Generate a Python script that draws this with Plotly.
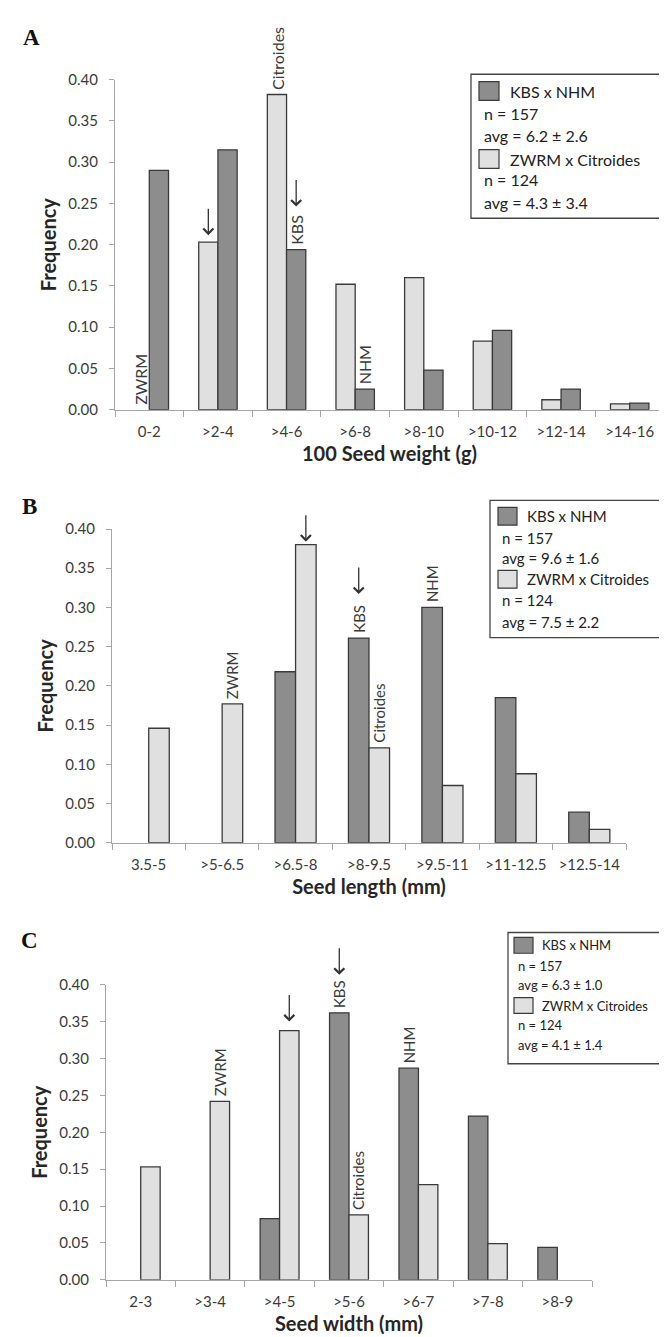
import plotly.graph_objects as go

# ---------------- data ----------------
a_cats = ["0-2", ">2-4", ">4-6", ">6-8", ">8-10", ">10-12", ">12-14", ">14-16"]
a_kbs = [0.290, 0.315, 0.194, 0.025, 0.048, 0.096, 0.025, 0.008]
a_zwrm = [0.0, 0.203, 0.382, 0.152, 0.160, 0.083, 0.012, 0.007]

b_cats = ["3.5-5", ">5-6.5", ">6.5-8", ">8-9.5", ">9.5-11", ">11-12.5", ">12.5-14"]
b_kbs = [0.0, 0.0, 0.218, 0.261, 0.300, 0.185, 0.039]
b_zwrm = [0.146, 0.177, 0.380, 0.121, 0.073, 0.088, 0.017]

c_cats = ["2-3", ">3-4", ">4-5", ">5-6", ">6-7", ">7-8", ">8-9"]
c_kbs = [0.0, 0.0, 0.083, 0.362, 0.287, 0.222, 0.044]
c_zwrm = [0.153, 0.242, 0.338, 0.088, 0.129, 0.049, 0.0]

y_tickvals = [0.0, 0.05, 0.10, 0.15, 0.20, 0.25, 0.30, 0.35, 0.40]
y_ticktext = ["0.00", "0.05", "0.10", "0.15", "0.20", "0.25", "0.30", "0.35", "0.40"]

x_titles = ["100 Seed weight (g)", "Seed length (mm)", "Seed width (mm)"]
panel_letters = ["A", "B", "C"]

a_legend = ["KBS x NHM", "n = 157", "avg = 6.2 \u00b1 2.6", "ZWRM x Citroides", "n = 124", "avg = 4.3 \u00b1 3.4"]
b_legend = ["KBS x NHM", "n = 157", "avg = 9.6 \u00b1 1.6", "ZWRM x Citroides", "n = 124", "avg = 7.5 \u00b1 2.2"]
c_legend = ["KBS x NHM", "n = 157", "avg = 6.3 \u00b1 1.0", "ZWRM x Citroides", "n = 124", "avg = 4.1 \u00b1 1.4"]

# parent labels above bars: (category index, series, text)
a_labels = [(0, "zwrm", "ZWRM"), (2, "zwrm", "Citroides"), (2, "kbs", "KBS"), (3, "kbs", "NHM")]
b_labels = [(1, "zwrm", "ZWRM"), (3, "kbs", "KBS"), (3, "zwrm", "Citroides"), (4, "kbs", "NHM")]
c_labels = [(1, "zwrm", "ZWRM"), (3, "kbs", "KBS"), (3, "zwrm", "Citroides"), (4, "kbs", "NHM")]
# mean arrows: (category index, series)
a_arrows = [(1, "zwrm"), (2, "kbs")]
b_arrows = [(2, "zwrm"), (3, "kbs")]
c_arrows = [(2, "zwrm"), (3, "kbs")]

# ---------------- style ----------------
DARK = "#8d8d8d"
LIGHT = "#e0e0e0"
EDGE = "#3a3a3a"
AXIS = "#a6a6a6"
TXT = "#3b3b3b"
FONT = "Lato"
W, H = 667, 1337
BARGAP = 0.44
OFF = (1 - BARGAP) / 4.0

panels = [
    dict(cats=a_cats, kbs=a_kbs, zwrm=a_zwrm, light_first=True,
         px=(107, 656), py=(62.5, 397), labels=a_labels, arrows=a_arrows,
         arrow_tip={"zwrm": 7, "kbs": 43}, legend=a_legend, tfs=16,
         box=(463, 662, 57, 203), sw=(471, 491), sw_h=19, text_x=(500, 474),
         rows=[74, 97, 119, 143, 164, 187], lfs=16, letter=(23, 20)),
    dict(cats=b_cats, kbs=b_kbs, zwrm=b_zwrm, light_first=False,
         px=(104, 618), py=(518, 836), labels=b_labels, arrows=b_arrows,
         arrow_tip={"zwrm": 3, "kbs": 44}, legend=b_legend, tfs=15,
         box=(482, 665, 489, 628), sw=(490, 509), sw_h=18, text_x=(517, 492),
         rows=[505, 527, 547, 569, 590, 612], lfs=15, letter=(21, 495)),
    dict(cats=c_cats, kbs=c_kbs, zwrm=c_zwrm, light_first=False,
         px=(98, 584), py=(980, 1279), labels=c_labels, arrows=c_arrows,
         arrow_tip={"zwrm": 9, "kbs": 38}, legend=c_legend, tfs=15,
         box=(500, 666, 927, 1060), sw=(506, 525), sw_h=16, text_x=(532, 508),
         rows=[940, 961, 980, 1001, 1021, 1041], lfs=13, letter=(21, 935)),
]


def fx(px):
    return px / W


def fy(py):
    return 1 - py / H


def edge_widths(vals):
    return [0 if v == 0 else 1.3 for v in vals]


fig = go.Figure()
shapes = []
annotations = []

for i, p in enumerate(panels):
    n = "" if i == 0 else str(i + 1)
    xa, ya = "x" + n, "y" + n
    kbs_tr = go.Bar(x=p["cats"], y=p["kbs"], name="KBS x NHM", xaxis=xa, yaxis=ya,
                    marker=dict(color=DARK, line=dict(color=EDGE, width=edge_widths(p["kbs"]))),
                    showlegend=False)
    zw_tr = go.Bar(x=p["cats"], y=p["zwrm"], name="ZWRM x Citroides", xaxis=xa, yaxis=ya,
                   marker=dict(color=LIGHT, line=dict(color=EDGE, width=edge_widths(p["zwrm"]))),
                   showlegend=False)
    if p["light_first"]:
        fig.add_trace(zw_tr)
        fig.add_trace(kbs_tr)
        side = {"zwrm": -OFF, "kbs": OFF}
    else:
        fig.add_trace(kbs_tr)
        fig.add_trace(zw_tr)
        side = {"kbs": -OFF, "zwrm": OFF}
    vals = {"kbs": p["kbs"], "zwrm": p["zwrm"]}
    ncat = len(p["cats"])

    fig.update_layout(**{
        "xaxis" + n: dict(domain=[fx(p["px"][0]), fx(p["px"][1])], anchor=ya,
                          type="category", range=[-0.5, ncat - 0.5],
                          showline=True, linecolor=AXIS, linewidth=1.3,
                          ticks="outside", tickson="boundaries", ticklen=6, tickcolor=AXIS,
                          tickwidth=1.3, showgrid=False, zeroline=False,
                          ticklabelstandoff=8,
                          tickfont=dict(family=FONT, size=15, color=TXT),
                          title=dict(text="<b>" + x_titles[i] + "</b>",
                                     font=dict(family=FONT, size=20, color="#262626"),
                                     standoff=8)),
        "yaxis" + n: dict(domain=[fy(p["py"][1]), fy(p["py"][0])], anchor=xa,
                          range=[0, 0.40], tickvals=y_tickvals, ticktext=y_ticktext,
                          showline=True, linecolor=AXIS, linewidth=1.3,
                          ticks="outside", ticklen=5, tickcolor=AXIS, tickwidth=1.3,
                          showgrid=False, zeroline=False, ticklabelstandoff=8,
                          tickfont=dict(family=FONT, size=15, color=TXT),
                          title=dict(text="<b>Frequency</b>",
                                     font=dict(family=FONT, size=20, color="#262626"),
                                     standoff=6)),
    })

    # rotated parent labels
    for ci, s, t in p["labels"]:
        annotations.append(dict(x=ci + side[s], y=vals[s][ci], xref=xa, yref=ya,
                                text=t, textangle=-90, showarrow=False,
                                xanchor="center", yanchor="bottom", yshift=3,
                                font=dict(family=FONT, size=p["tfs"], color=TXT)))
    # mean arrows
    for ci, s in p["arrows"]:
        tip = p["arrow_tip"][s]
        L = 28
        annotations.append(dict(x=ci + side[s], y=vals[s][ci], xref=xa, yref=ya,
                                text="", showarrow=True, arrowhead=4, arrowsize=1.5,
                                arrowwidth=1.3, arrowcolor="#333333",
                                ax=0, ay=-(tip + L), standoff=tip))

    # legend box
    x0, x1, y0, y1 = p["box"]
    shapes.append(dict(type="rect", xref="paper", yref="paper", x0=fx(x0), x1=fx(x1),
                       y0=fy(y1), y1=fy(y0), line=dict(color="#444444", width=1.3),
                       fillcolor="white", layer="above"))
    for k, txt in enumerate(p["legend"]):
        row = p["rows"][k]
        if k in (0, 3):
            col = DARK if k == 0 else LIGHT
            shapes.append(dict(type="rect", xref="paper", yref="paper",
                               x0=fx(p["sw"][0]), x1=fx(p["sw"][1]),
                               y0=fy(row + p["sw_h"] / 2), y1=fy(row - p["sw_h"] / 2),
                               fillcolor=col, line=dict(color=EDGE, width=1.2), layer="above"))
            tx = p["text_x"][0]
        else:
            tx = p["text_x"][1]
        annotations.append(dict(x=fx(tx), y=fy(row), xref="paper", yref="paper", text=txt,
                                showarrow=False, xanchor="left", yanchor="middle",
                                font=dict(family=FONT, size=p["lfs"], color="#222")))
    # panel letter
    lx, ly = p["letter"]
    annotations.append(dict(x=fx(lx), y=fy(ly), xref="paper", yref="paper",
                            text="<b>" + panel_letters[i] + "</b>", showarrow=False,
                            xanchor="center", yanchor="middle",
                            font=dict(family="Liberation Serif", size=23, color="#111")))

fig.update_layout(width=W, height=H, margin=dict(l=0, r=0, t=0, b=0),
                  paper_bgcolor="white", plot_bgcolor="white",
                  barmode="group", bargap=BARGAP, bargroupgap=0,
                  shapes=shapes, annotations=annotations, showlegend=False)

fig.write_html("out.html")
